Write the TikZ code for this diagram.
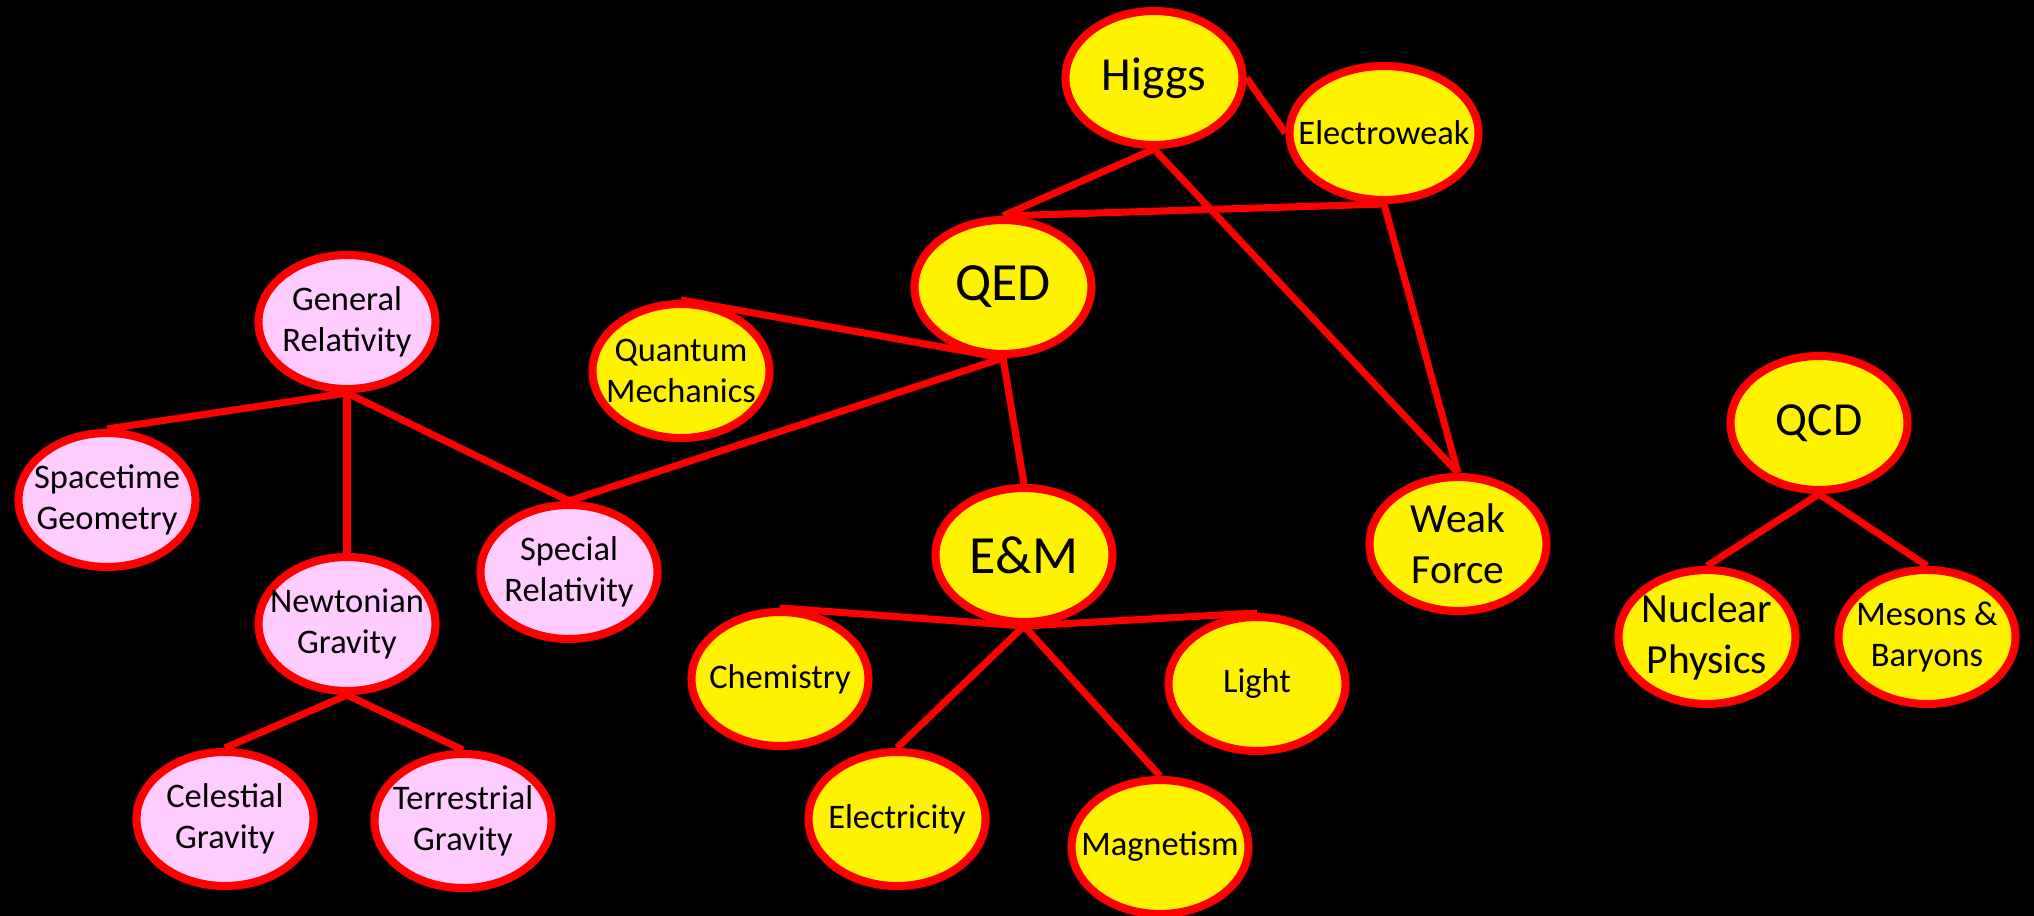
\documentclass[tikz,border=0pt]{standalone}
\usepackage{fontspec}
\setmainfont{Carlito}
\usepackage{xcolor}
\usetikzlibrary{positioning,shapes.geometric,backgrounds}
\definecolor{relpink}{RGB}{255,204,255}

\begin{document}
\begin{tikzpicture}[
    font=\fontsize{9.8}{11.8}\selectfont,
    topic/.style={ellipse, draw=red, line width=2.3pt, fill=yellow, inner sep=-5mm,
                  minimum width=17.7mm, minimum height=13.4mm, align=center},
    grav/.style={topic, fill=relpink},
    mid/.style={font=\fontsize{11.8}{14.4}\selectfont},
    big/.style={font=\fontsize{13.5}{16}\selectfont},
    huge/.style={font=\fontsize{15.3}{18}\selectfont},
    link/.style={draw=red, line width=2pt}
]
\useasboundingbox (0,0) rectangle (20.34,-9.16);

\node[topic, big] (higgs) at (11.54,-0.78) {Higgs};
\node[topic, minimum width=18.9mm] (ew) at (13.84,-1.33) {Electroweak};
\node[topic, huge] (qed) at (10.03,-2.87) {QED};
\node[topic] (qm) at (6.81,-3.71) {Quantum\\Mechanics};
\node[topic, huge] (em) at (10.24,-5.55) {E\&M};
\node[topic, mid] (weak) at (14.58,-5.44) {Weak\\Force};
\node[topic] (chem) at (7.80,-6.79) {Chemistry};
\node[topic] (light) at (12.57,-6.84) {Light};
\node[topic] (elec) at (8.97,-8.19) {Electricity};
\node[topic] (mag) at (11.60,-8.47) {Magnetism};
\node[topic, big] (qcd) at (18.19,-4.23) {QCD};
\node[topic, mid] (nuc) at (17.07,-6.37) {Nuclear\\Physics};
\node[topic] (mes) at (19.27,-6.37) {Mesons \&\\Baryons};

\node[grav] (gr) at (3.47,-3.22) {General\\Relativity};
\node[grav] (st) at (1.07,-5.00) {Spacetime\\Geometry};
\node[grav] (ng) at (3.47,-6.24) {Newtonian\\Gravity};
\node[grav] (sr) at (5.69,-5.72) {Special\\Relativity};
\node[grav] (cg) at (2.25,-8.19) {Celestial\\Gravity};
\node[grav] (tg) at (4.63,-8.21) {Terrestrial\\Gravity};

\begin{pgfonlayer}{background}
\fill[black] (0,0) rectangle (20.34,-9.16);
\draw[link] (higgs.east) -- (ew.west);
\draw[link] (higgs.south) -- (qed.north);
\draw[link] (higgs.south) -- (weak.north);
\draw[link] (ew.south) -- (qed.north);
\draw[link] (ew.south) -- (weak.north);
\draw[link] (qed.south) -- (qm.north);
\draw[link] (qed.south) -- (sr.north);
\draw[link] (qed.south) -- (em.north);
\draw[link] (gr.south) -- (st.north);
\draw[link] (gr.south) -- (ng.north);
\draw[link] (gr.south) -- (sr.north);
\draw[link] (ng.south) -- (cg.north);
\draw[link] (ng.south) -- (tg.north);
\draw[link] (em.south) -- (chem.north);
\draw[link] (em.south) -- (light.north);
\draw[link] (em.south) -- (elec.north);
\draw[link] (em.south) -- (mag.north);
\draw[link] (qcd.south) -- (nuc.north);
\draw[link] (qcd.south) -- (mes.north);
\end{pgfonlayer}
\end{tikzpicture}
\end{document}
